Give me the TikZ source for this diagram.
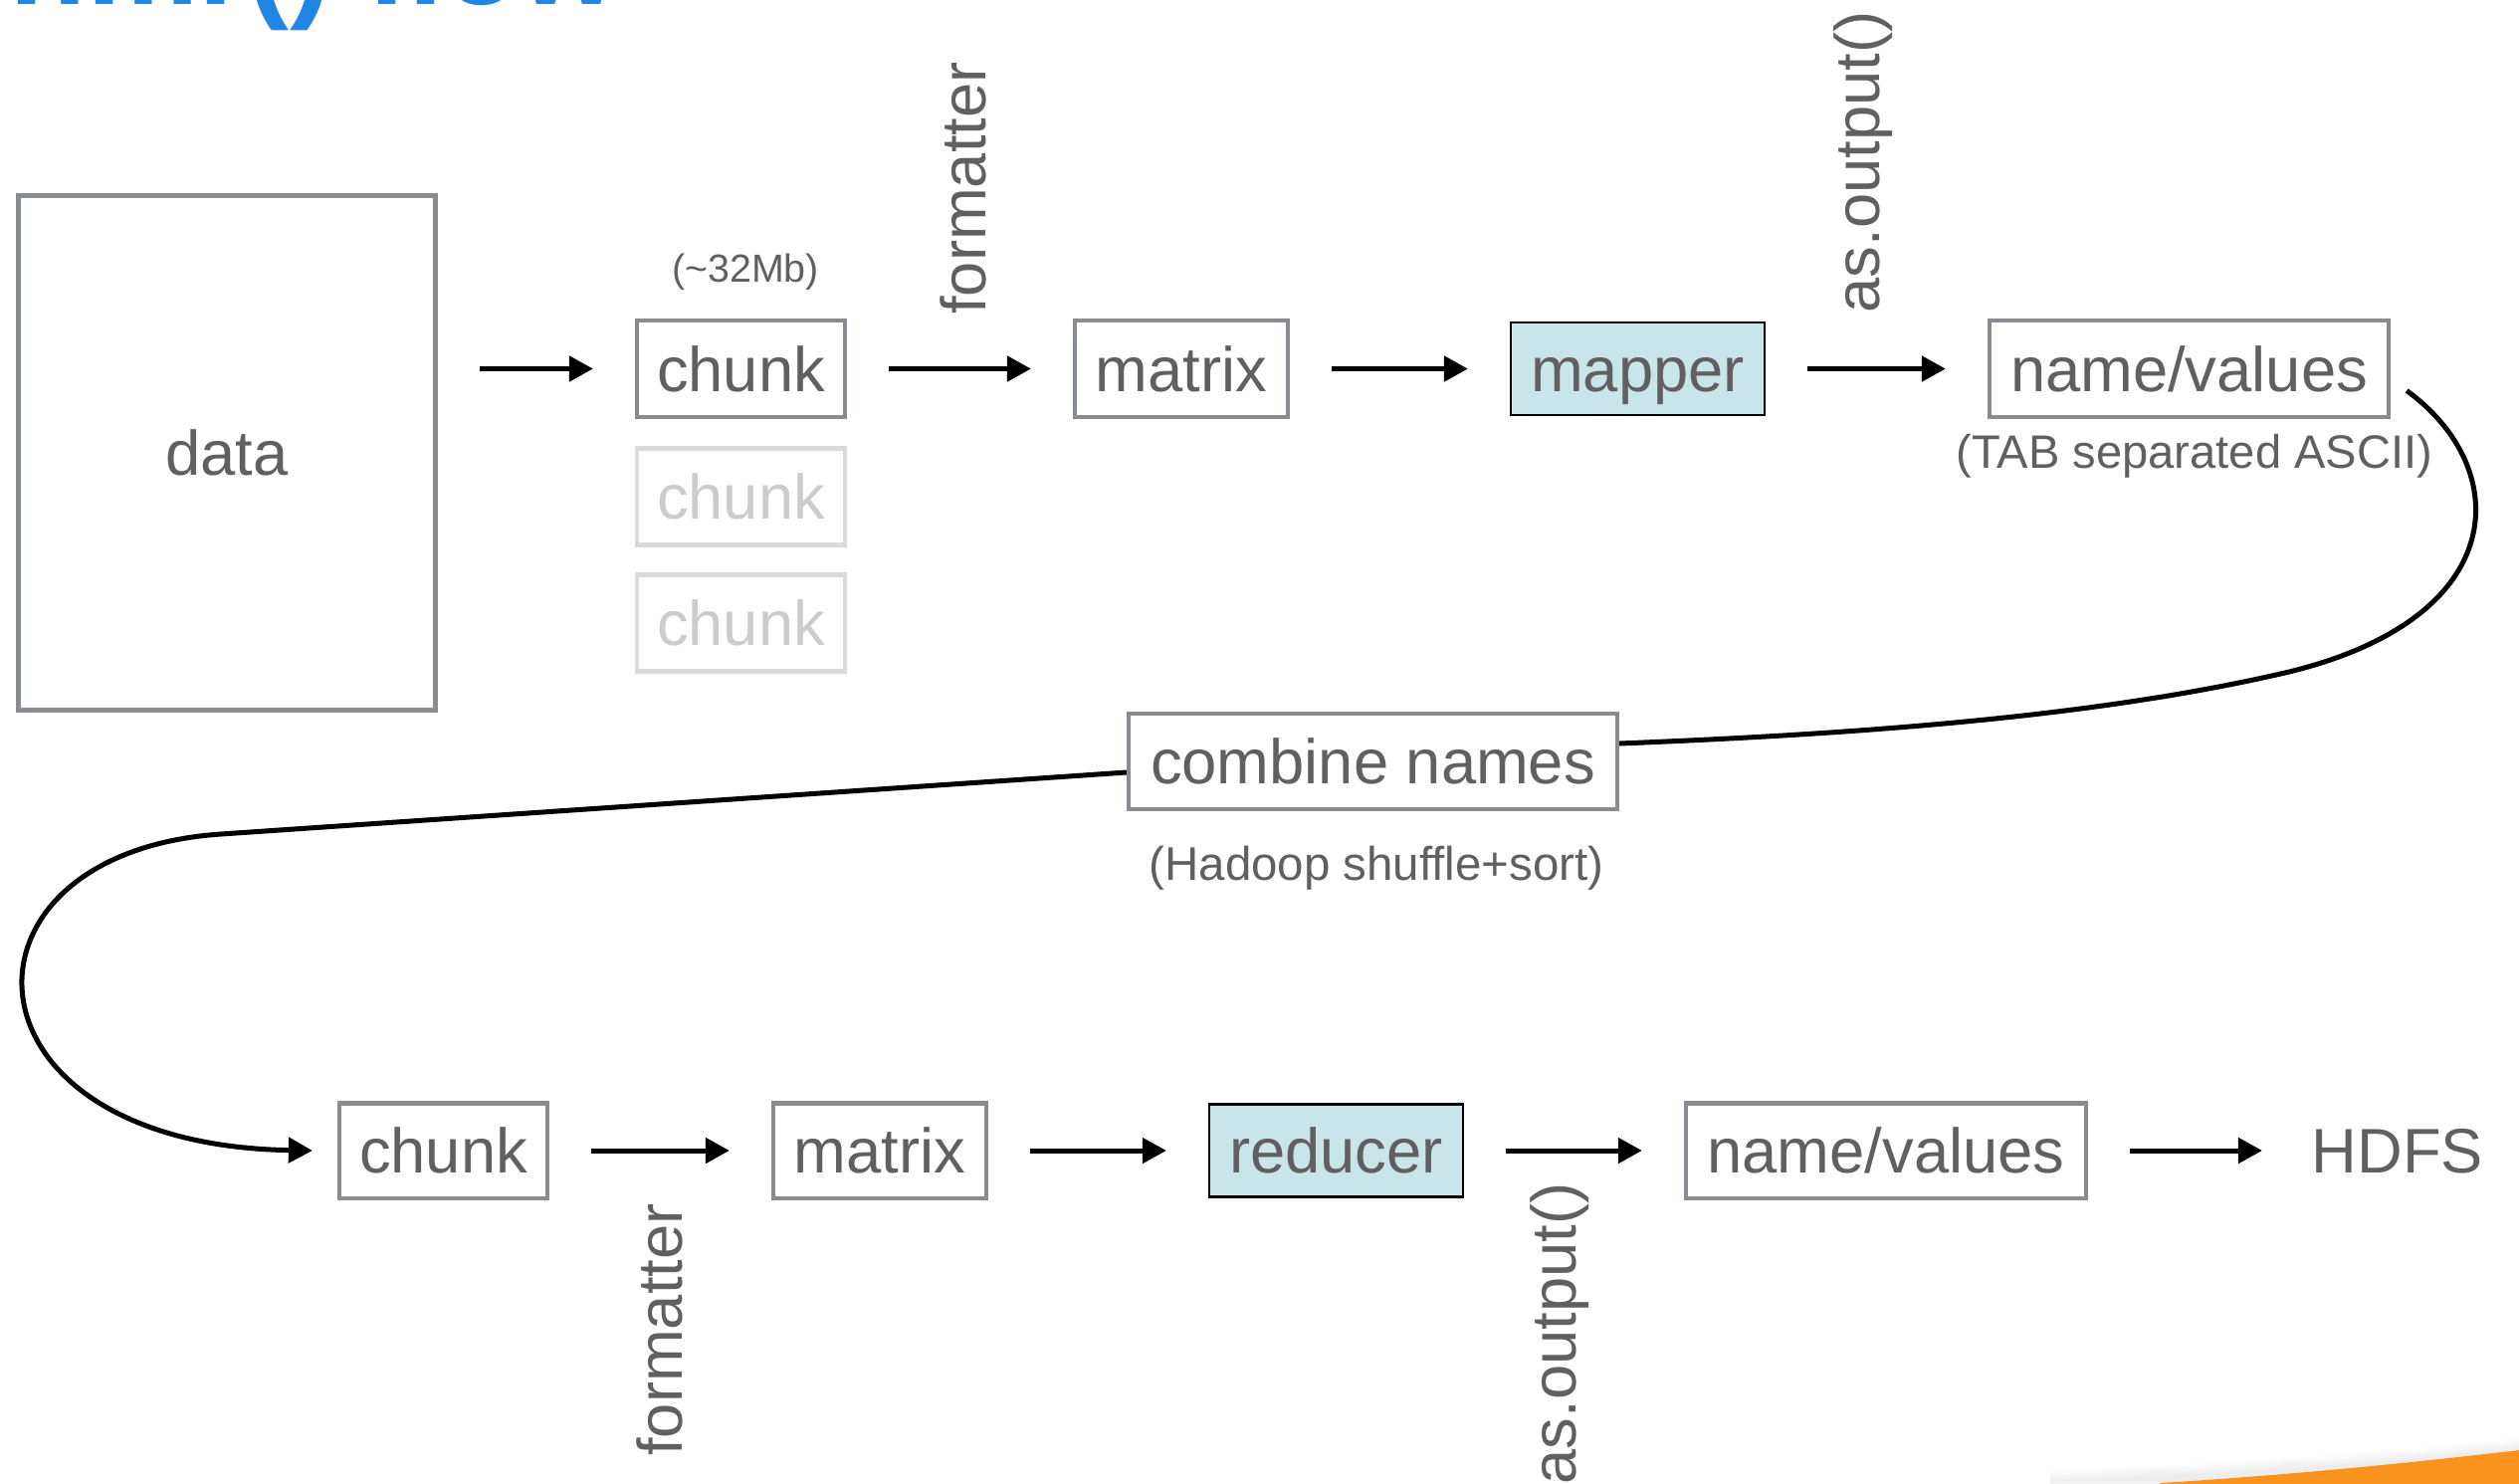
\documentclass[tikz,border=0pt]{standalone}
\usepackage{fontspec}
\setmainfont{Liberation Sans}
\usetikzlibrary{arrows.meta,calc}
\definecolor{txtgrey}{RGB}{96,96,96}
\definecolor{bordergrey}{RGB}{136,139,143}
\definecolor{lightborder}{RGB}{217,218,220}
\definecolor{lighttxt}{RGB}{204,204,204}
\definecolor{cyanfill}{RGB}{200,230,233}
\definecolor{titleblue}{RGB}{33,133,229}
\definecolor{swoosh}{RGB}{248,148,29}
\begin{document}
\begin{tikzpicture}[x=0.01cm,y=-0.01cm,
  box/.style={draw=bordergrey,line width=0.045cm,fill=white,text=txtgrey,
    font=\fontsize{18}{20}\selectfont,inner sep=0pt,text height=12.9pt,text depth=0pt},
  ghost/.style={box,draw=lightborder,text=lighttxt},
  proc/.style={box,draw=black,line width=0.025cm,fill=cyanfill},
  flow/.style={-{Triangle[length=0.24cm,width=0.25cm]},line width=0.05cm,
    shorten <=0.42cm,shorten >=0.42cm},
  curvy/.style={line width=0.05cm},
  vlabel/.style={rotate=90,text=txtgrey,font=\fontsize{18}{20}\selectfont,inner sep=0pt},
  note/.style={text=txtgrey,inner sep=0pt}]
\useasboundingbox (0,0) rectangle (2531,1490);
\begin{scope}
\clip (0,0) rectangle (2531,1490);
% title (cut at the top edge)
\node[anchor=base west,inner sep=0pt,text=titleblue,
  font=\bfseries\fontsize{36}{40}\selectfont] (title) at (9,4) {hmr() flow};
% orange swoosh with soft shadow
\foreach \s in {1,...,6}{
  \fill[black,opacity=0.012,yshift=\s*0.02cm] (2060,1490) .. controls (2250,1482) and (2420,1470) .. (2531,1457) -- (2531,1500) -- (2060,1500) -- cycle;
}
\fill[swoosh] (2170,1490) .. controls (2300,1482) and (2420,1470) .. (2531,1457) -- (2531,1500) -- (2170,1500) -- cycle;
\end{scope}

% upper row
\node[box,minimum width=4.185cm,minimum height=5.165cm] (data) at (228,455) {data};
\node[box,minimum width=2.085cm,minimum height=0.965cm] (chunkA) at (744.5,370.5) {chunk};
\node[ghost,minimum width=2.085cm,minimum height=0.965cm] (chunkA2) at (744.5,499) {chunk};
\node[ghost,minimum width=2.085cm,minimum height=0.965cm] (chunkA3) at (744.5,626) {chunk};
\node[note,font=\fontsize{11.2}{13}\selectfont] (size) at (749,273) {(\textasciitilde32Mb)};
\node[box,minimum width=2.135cm,minimum height=0.965cm] (matrixA) at (1187,370.5) {matrix};
\node[proc,minimum width=2.545cm,minimum height=0.925cm] (mapper) at (1645.5,370.5) {mapper};
\node[box,minimum width=4.005cm,minimum height=0.965cm] (nvA) at (2199.5,370.5) {name/values};
\node[note,font=\fontsize{13.4}{15}\selectfont] (tab) at (2205,458) {(TAB separated ASCII)};
\node[vlabel] (fmtA) at (968,189) {formatter};
\node[vlabel] (outA) at (1872,163) {as.output()};

% middle
\node[box,minimum width=4.905cm,minimum height=0.955cm] (comb) at (1379.5,765) {combine names};
\node[note,font=\fontsize{13.5}{15}\selectfont] (shuffle) at (1383,872) {(Hadoop shuffle+sort)};

% lower row
\node[box,minimum width=2.085cm,minimum height=0.955cm] (chunkB) at (445.5,1156) {chunk};
\node[box,minimum width=2.135cm,minimum height=0.955cm] (matrixB) at (884,1156) {matrix};
\node[proc,minimum width=2.545cm,minimum height=0.925cm] (reducer) at (1342.5,1156) {reducer};
\node[box,minimum width=4.015cm,minimum height=0.955cm] (nvB) at (1895,1156) {name/values};
\node[note,font=\fontsize{18}{20}\selectfont,anchor=west,text height=12.9pt,text depth=0pt] (hdfs) at (2322,1156) {HDFS};
\node[vlabel] (fmtB) at (663,1336) {formatter};
\node[vlabel] (outB) at (1567,1340) {as.output()};

% straight arrows
\draw[flow] (data.east |- chunkA.west) -- (chunkA.west);
\draw[flow] (chunkA.east) -- (matrixA.west);
\draw[flow] (matrixA.east) -- (mapper.west);
\draw[flow] (mapper.east) -- (nvA.west);
\draw[flow] (chunkB.east) -- (matrixB.west);
\draw[flow] (matrixB.east) -- (reducer.west);
\draw[flow] (reducer.east) -- (nvB.west);
\draw[flow,shorten >=0.49cm] (nvB.east) -- (hdfs.west);

% curved connectors
\draw[curvy] ($(nvA.east)+(16,22)$) .. controls (2525,470) and (2525,620) .. (2300,675)
  .. controls (2100,722) and (1850,738) .. ($(comb.east)+(0,-18)$);
\draw[curvy,-{Triangle[length=0.24cm,width=0.25cm]}] ($(comb.west)+(0,11)$) -- (222,838)
  .. controls (-60,857) and (-50,1150) .. ([xshift=-0.25cm]chunkB.west);
\end{tikzpicture}
\end{document}
